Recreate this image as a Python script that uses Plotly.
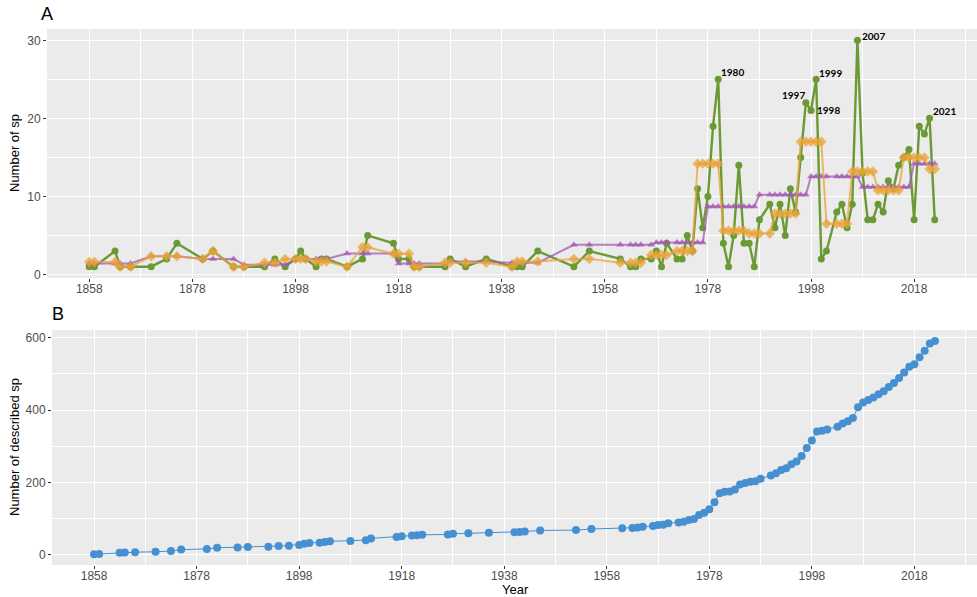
import plotly.graph_objects as go

# ---------------- data ----------------
years = [1858, 1859, 1863, 1864, 1866, 1870, 1873, 1875, 1880, 1882, 1886, 1888,
         1892, 1894, 1896, 1898, 1899, 1900, 1902, 1903, 1904, 1908, 1911, 1912,
         1917, 1918, 1920, 1921, 1922, 1927, 1928, 1931, 1935, 1940, 1941, 1942,
         1945, 1952, 1955, 1961, 1963, 1964, 1965, 1967, 1968, 1969, 1970, 1972,
         1973, 1974, 1975, 1976, 1977, 1978, 1979, 1980, 1981, 1982, 1983, 1984,
         1985, 1986, 1987, 1988, 1990, 1991, 1992, 1993, 1994, 1995, 1996, 1997,
         1998, 1999, 2000, 2001, 2003, 2004, 2005, 2006, 2007, 2008, 2009, 2010,
         2011, 2012, 2013, 2014, 2015, 2016, 2017, 2018, 2019, 2020, 2021, 2022]

# species described per year (green)
n_species = [1, 1, 3, 1, 1, 1, 2, 4, 2, 3, 1, 1,
             1, 2, 1, 2, 3, 2, 1, 2, 2, 1, 2, 5,
             4, 2, 2, 1, 1, 1, 2, 1, 2, 1, 1, 1,
             3, 1, 3, 2, 1, 1, 2, 2, 3, 1, 4, 2,
             2, 5, 3, 11, 6, 10, 19, 25, 4, 1, 5, 14,
             4, 4, 1, 7, 9, 6, 9, 5, 11, 8, 15, 22,
             21, 25, 2, 3, 8, 9, 6, 9, 30, 13, 7, 7,
             9, 8, 12, 11, 14, 15, 16, 7, 19, 18, 20, 7]

# 5-year mean (orange)
mean_5yr = [1.6, 1.6, 1.6, 1.0, 1.0, 2.33, 2.33, 2.33, 2.0, 3.0, 1.0, 1.0,
            1.5, 1.5, 2.0, 2.0, 2.0, 2.0, 1.67, 1.67, 1.67, 1.0, 3.5, 3.5,
            2.67, 2.67, 2.67, 1.0, 1.0, 1.5, 1.5, 1.5, 1.5, 1.0, 1.67, 1.67,
            1.67, 2.0, 2.0, 1.5, 1.5, 1.5, 1.5, 2.5, 2.5, 2.5, 2.5, 3.0,
            3.0, 3.0, 3.0, 14.2, 14.2, 14.2, 14.2, 14.2, 5.6, 5.6, 5.6, 5.6,
            5.6, 5.25, 5.25, 5.25, 5.25, 7.8, 7.8, 7.8, 7.8, 7.8, 17.0, 17.0,
            17.0, 17.0, 17.0, 6.5, 6.5, 6.5, 6.5, 13.2, 13.2, 13.2, 13.2, 13.2,
            10.8, 10.8, 10.8, 10.8, 10.8, 15.0, 15.0, 15.0, 15.0, 15.0, 13.5, 13.5]

# 10-year mean (purple)
mean_10yr = [1.4, 1.4, 1.4, 1.4, 1.4, 2.33, 2.33, 2.33, 2.0, 2.0, 2.0, 1.25,
             1.25, 1.25, 1.25, 2.0, 2.0, 2.0, 2.0, 2.0, 2.0, 2.7, 2.7, 2.7,
             2.7, 1.4, 1.4, 1.4, 1.4, 1.4, 1.67, 1.67, 1.67, 1.5, 1.5, 1.5,
             1.5, 3.8, 3.8, 3.8, 3.8, 3.8, 3.8, 3.8, 4.1, 4.1, 4.1, 4.1,
             4.1, 4.1, 4.1, 4.1, 4.1, 8.7, 8.7, 8.7, 8.7, 8.7, 8.7, 8.7,
             8.7, 8.7, 8.7, 10.2, 10.2, 10.2, 10.2, 10.2, 10.2, 10.2, 10.2, 10.2,
             12.55, 12.55, 12.55, 12.55, 12.55, 12.55, 12.55, 12.55, 12.55, 11.2, 11.2, 11.2,
             11.2, 11.2, 11.2, 11.2, 11.2, 11.2, 11.2, 14.2, 14.2, 14.2, 14.2, 14.2]

# cumulative number of described species (blue)
cumulative = [1, 2, 5, 6, 7, 8, 10, 14, 16, 19, 20, 21,
              22, 24, 25, 27, 30, 32, 33, 35, 37, 38, 40, 45,
              49, 51, 53, 54, 55, 56, 58, 59, 61, 62, 63, 64,
              67, 68, 71, 73, 74, 75, 77, 79, 82, 83, 87, 89,
              91, 96, 99, 110, 116, 126, 145, 170, 174, 175, 180, 194,
              198, 202, 203, 210, 219, 225, 234, 239, 250, 258, 273, 295,
              316, 341, 343, 346, 354, 363, 369, 378, 408, 421, 428, 435,
              444, 452, 464, 475, 489, 504, 520, 527, 546, 564, 584, 591]

label_years = [1980, 1997, 1998, 1999, 2007, 2021]
x_ticks = [1858, 1878, 1898, 1918, 1938, 1958, 1978, 1998, 2018]
y_ticks_a = [0, 10, 20, 30]
y_ticks_b = [0, 200, 400, 600]

assert len(years) == len(n_species) == len(mean_5yr) == len(mean_10yr) == len(cumulative)

# ---------------- styling ----------------
W, H = 977, 597
GREEN = "#6b9a35"
ORANGE = "rgba(234,163,55,0.75)"
PURPLE = "rgba(163,90,176,0.75)"
BLUE = "#4690d2"
PANEL = "#ebebeb"
TICKFONT = dict(family="Liberation Sans, Arial, sans-serif", size=12, color="#4d4d4d")

def px_x(p):
    return p / W

def px_y(p):
    return 1 - p / H

fig = go.Figure()

fig.add_trace(go.Scatter(x=years, y=n_species, mode="lines+markers",
                         line=dict(color=GREEN, width=2.4),
                         marker=dict(symbol="circle", size=7, color=GREEN),
                         xaxis="x", yaxis="y", showlegend=False))
fig.add_trace(go.Scatter(x=years, y=mean_10yr, mode="lines+markers",
                         line=dict(color=PURPLE, width=2),
                         marker=dict(symbol="triangle-up", size=7, color=PURPLE),
                         xaxis="x", yaxis="y", showlegend=False))
fig.add_trace(go.Scatter(x=years, y=mean_5yr, mode="lines+markers",
                         line=dict(color=ORANGE, width=2),
                         marker=dict(symbol="diamond", size=8, color=ORANGE),
                         xaxis="x", yaxis="y", showlegend=False))

fig.add_trace(go.Scatter(x=years, y=cumulative, mode="lines+markers",
                         line=dict(color=BLUE, width=1),
                         marker=dict(symbol="circle", size=8, color=BLUE),
                         xaxis="x2", yaxis="y2", showlegend=False))

# peak labels
label_pos = {1980: ("left", "bottom", 1, -1),
             1997: ("right", "bottom", 1, 0),
             1998: ("left", "middle", 4, 1),
             1999: ("left", "bottom", 1, -2),
             2007: ("left", "middle", 3, 4),
             2021: ("left", "bottom", 1, -1)}
for yr in label_years:
    i = years.index(yr)
    xa, ya, xs, ys = label_pos[yr]
    fig.add_annotation(x=yr, y=n_species[i], xref="x", yref="y", text="<b>%d</b>" % yr,
                       showarrow=False, xanchor=xa, yanchor=ya, xshift=xs, yshift=ys,
                       font=dict(family="Lato, Open Sans, sans-serif", size=10, color="black"))

common_x = dict(range=[1849.8, 2030.2], tickmode="array", tickvals=x_ticks,
                ticks="outside", ticklen=3, tickcolor="#333333", tickwidth=1,
                ticklabelstandoff=-3,
                tickfont=TICKFONT, showgrid=True, gridcolor="white", gridwidth=1.2,
                zeroline=False, showline=False, automargin=False,
                minor=dict(tickmode="linear", tick0=1848, dtick=10, showgrid=True,
                           gridcolor="white", gridwidth=0.6, ticks=""))

fig.update_layout(
    width=W, height=H,
    margin=dict(l=0, r=0, t=0, b=0),
    paper_bgcolor="white", plot_bgcolor=PANEL,
    hovermode=False,
    xaxis=dict(domain=[px_x(47), 1.0], anchor="y", **common_x),
    yaxis=dict(domain=[px_y(278), px_y(29)], anchor="x", range=[-0.45, 31.45],
               tickmode="array", tickvals=y_ticks_a, ticks="outside", ticklen=3,
               tickcolor="#333333", tickfont=TICKFONT, showgrid=True, gridcolor="white",
               gridwidth=1.2, zeroline=False, automargin=False,
               minor=dict(tickmode="linear", tick0=5, dtick=10, showgrid=True,
                          gridcolor="white", gridwidth=0.6, ticks="")),
    xaxis2=dict(domain=[px_x(52), 1.0], anchor="y2", **common_x),
    yaxis2=dict(domain=[px_y(565), px_y(330)], anchor="x2", range=[-28.55, 621.55],
                tickmode="array", tickvals=y_ticks_b, ticks="outside", ticklen=3,
                tickcolor="#333333", tickfont=TICKFONT, showgrid=True, gridcolor="white",
                gridwidth=1.2, zeroline=False, automargin=False,
                minor=dict(tickmode="linear", tick0=100, dtick=200, showgrid=True,
                           gridcolor="white", gridwidth=0.6, ticks="")),
)

TITLEFONT = dict(family="Liberation Sans, Arial, sans-serif", size=13, color="black")
fig.add_annotation(text="Number of sp", xref="paper", yref="paper", x=px_x(14), y=px_y(153),
                   textangle=-90, showarrow=False, font=TITLEFONT, xanchor="center", yanchor="middle")
fig.add_annotation(text="Number of described sp", xref="paper", yref="paper", x=px_x(14),
                   y=px_y(447), textangle=-90, showarrow=False, font=TITLEFONT,
                   xanchor="center", yanchor="middle")
fig.add_annotation(text="Year", xref="paper", yref="paper", x=px_x(515), y=px_y(589),
                   showarrow=False, font=TITLEFONT, xanchor="center", yanchor="middle")
PANELFONT = dict(family="Liberation Sans, Arial, sans-serif", size=18, color="black")
fig.add_annotation(text="A", xref="paper", yref="paper", x=px_x(47), y=px_y(14),
                   showarrow=False, font=PANELFONT, xanchor="center", yanchor="middle")
fig.add_annotation(text="B", xref="paper", yref="paper", x=px_x(58), y=px_y(314),
                   showarrow=False, font=PANELFONT, xanchor="center", yanchor="middle")

fig.write_html("out.html", config={"displayModeBar": False},
               post_script="document.body.style.margin='0';document.body.style.overflow='hidden';")
